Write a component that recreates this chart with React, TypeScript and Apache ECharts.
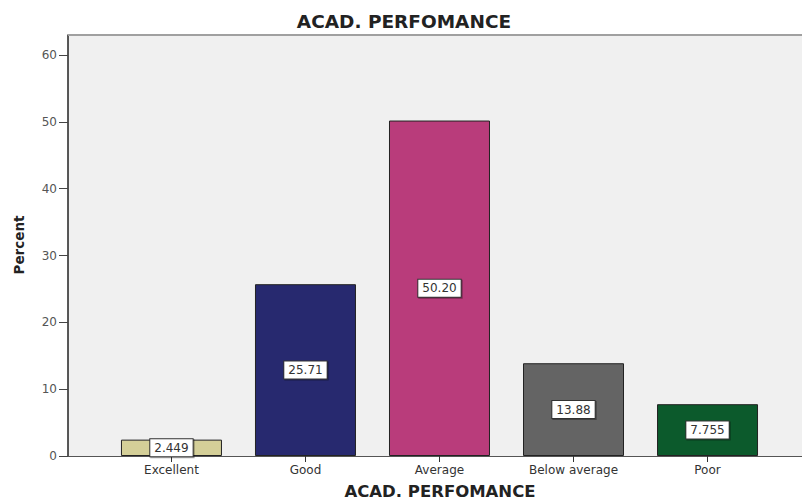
import React, { useEffect, useRef } from "react";
import * as echarts from "echarts";

const categories = ["Excellent", "Good", "Average", "Below average", "Poor"];
const values = [2.449, 25.71, 50.2, 13.88, 7.755];
const valueLabels = ["2.449", "25.71", "50.20", "13.88", "7.755"];
const barColors = ["#d4cf98", "#27296f", "#b93c7b", "#646464", "#0c5a2c"];
const yTicks = [0, 10, 20, 30, 40, 50, 60];
const xTicks = [0, 1, 2, 3, 4];

export default function App() {
  const ref = useRef<HTMLDivElement>(null);
  useEffect(() => {
    if (!ref.current) return;
    const chart = echarts.init(ref.current, null, { renderer: "svg" });
    const font = "DejaVu Sans";
    chart.setOption({
      animation: false,
      textStyle: { fontFamily: font },
      grid: {
        left: 68,
        right: 0,
        top: 35,
        bottom: 46,
        show: true,
        backgroundColor: "#f0f0f0",
        borderWidth: 0,
      },
      xAxis: {
        type: "value",
        min: -0.772,
        max: 4.705,
        splitLine: { show: false },
        axisLine: { show: true, onZero: false, lineStyle: { color: "#555", width: 1 } },
        axisTick: { show: true, customValues: xTicks, length: 6, lineStyle: { color: "#333" } },
        axisLabel: {
          customValues: xTicks,
          formatter: (v: number) => categories[Math.round(v)] ?? "",
          color: "#333",
          fontSize: 12,
          fontFamily: font,
          margin: 8,
        },
      },
      yAxis: {
        type: "value",
        min: 0,
        max: 63,
        splitLine: { show: false },
        axisLine: { show: true, onZero: false, lineStyle: { color: "#222", width: 1.5 } },
        axisTick: { show: true, customValues: yTicks, length: 9, lineStyle: { color: "#444" } },
        axisLabel: {
          customValues: yTicks,
          color: "#555",
          fontSize: 12,
          fontFamily: font,
          margin: 11,
        },
      },
      series: [
        {
          type: "bar",
          barWidth: 101,
          data: values.map((v, i) => ({
            value: [i, v],
            itemStyle: { color: barColors[i] },
          })),
          itemStyle: { borderColor: "#222", borderWidth: 1 },
          label: {
            show: true,
            position: "inside",
            formatter: (p: any) => valueLabels[p.dataIndex],
            color: "#333",
            fontSize: 12,
            fontFamily: font,
            backgroundColor: "#ffffff",
            borderColor: "#333",
            borderWidth: 1,
            padding: [3, 4, 2, 4],
            shadowColor: "rgba(0,0,0,0.35)",
            shadowBlur: 1,
            shadowOffsetX: 1,
            shadowOffsetY: 1,
          },
        },
      ],
      graphic: [
        {
          type: "line",
          shape: { x1: 68, y1: 35, x2: 802, y2: 35 },
          style: { stroke: "#a0a0a0", lineWidth: 2 },
          z: 10,
        },
        {
          type: "text",
          x: 404,
          y: 21,
          style: {
            text: "ACAD. PERFOMANCE",
            fontFamily: font,
            fontWeight: "bold",
            fontSize: 18.5,
            fill: "#222",
            align: "center",
            verticalAlign: "middle",
          },
        },
        {
          type: "text",
          x: 440,
          y: 491,
          style: {
            text: "ACAD. PERFOMANCE",
            fontFamily: font,
            fontWeight: "bold",
            fontSize: 16.5,
            fill: "#222",
            align: "center",
            verticalAlign: "middle",
          },
        },
        {
          type: "text",
          x: 18.5,
          y: 245,
          rotation: Math.PI / 2,
          style: {
            text: "Percent",
            fontFamily: font,
            fontWeight: "bold",
            fontSize: 13.5,
            fill: "#222",
            align: "center",
            verticalAlign: "middle",
          },
        },
      ],
    });
    return () => chart.dispose();
  }, []);
  return (
    <div
      ref={ref}
      style={{ position: "fixed", left: 0, top: 0, width: 802, height: 502, background: "#ffffff" }}
    />
  );
}
